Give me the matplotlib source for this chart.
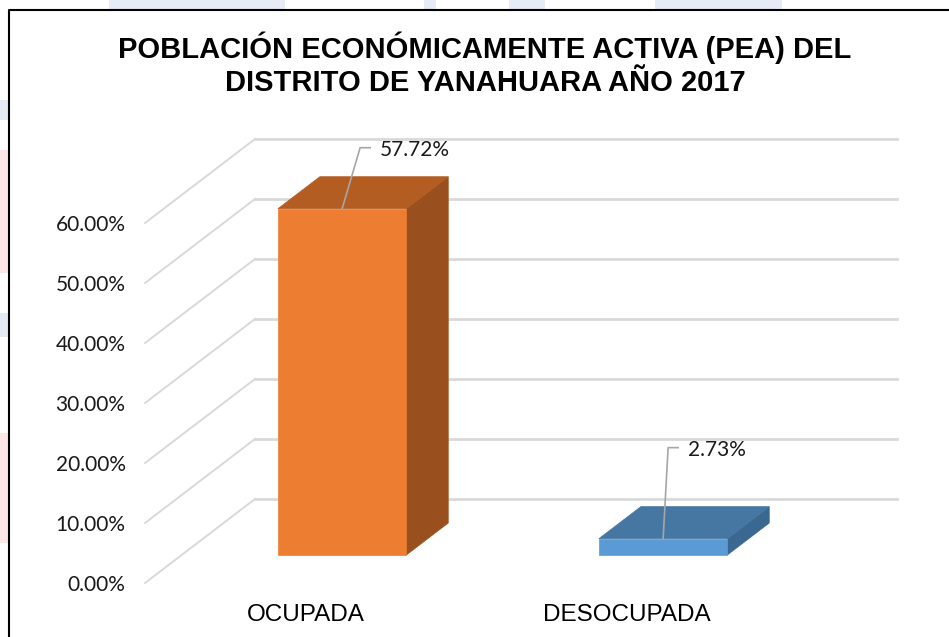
#!/usr/bin/env python3
"""PEA del distrito de Yanahuara 2017 -- Excel-style 3D column chart."""
import matplotlib
matplotlib.use("Agg")
import matplotlib.pyplot as plt
from matplotlib.patches import Polygon, Rectangle
from matplotlib.lines import Line2D
from matplotlib.transforms import IdentityTransform

CATEGORIES = ["OCUPADA", "DESOCUPADA"]
VALUES = [57.72, 2.73]                        # percent
Y_TICKS = [0, 10, 20, 30, 40, 50, 60]
TITLE = ["POBLACIÓN ECONÓMICAMENTE ACTIVA (PEA) DEL",
         "DISTRITO DE YANAHUARA AÑO 2017"]

FRONT = ["#ED7D31", "#5B9BD5"]
TOP = ["#B45D22", "#4677A3"]
SIDE = ["#994F1E", "#3B6890"]
GRID = "#d9d9d9"

W, H = 949, 637
DEPTH_X, DEPTH_Y = 110 / 321.0, 14.0          # floor depth in data units (cat, %)
D0, D1 = 0.333, 0.714                          # bar front/back as fraction of depth
BAR_W = 0.40
LEADERS = [(18, 61), (5, 91)]                  # label bend offsets (px)

# faint watermark showing around the frame: (x, y_top, w, h, colour) in px
WATERMARK = [(0, 100, 8, 20, "#e4e9f4"), (0, 150, 8, 123, "#fce6e7"),
             (0, 313, 8, 24, "#e4e9f4"), (0, 433, 8, 110, "#fce6e7"),
             (109, 0, 176, 9, "#e6ebf6"), (424, 0, 12, 9, "#e6ebf6"),
             (509, 0, 36, 9, "#e6ebf6"), (655, 0, 127, 9, "#e6ebf6")]


def main():
    fig = plt.figure(figsize=(W / 100, H / 100), dpi=100)
    ax = fig.add_axes([145 / W, 1 - 583 / H, 642 / W, 360 / H])
    ax.set_xlim(-0.5, 1.5); ax.set_ylim(0, 60)
    for s in ax.spines.values():
        s.set_visible(False)

    # side wall diagonals + back wall gridlines
    for v in Y_TICKS:
        ax.plot([-0.5, -0.5 + DEPTH_X], [v, v + DEPTH_Y], color=GRID, lw=1.4,
                clip_on=False, zorder=1)
        ax.plot([-0.5 + DEPTH_X, 1.5 + DEPTH_X], [v + DEPTH_Y, v + DEPTH_Y],
                color=GRID, lw=2.0, clip_on=False, zorder=1)

    idt = IdentityTransform()
    for i, v in enumerate(VALUES):
        x0, x1 = i - BAR_W / 2, i + BAR_W / 2
        fx, fy = D0 * DEPTH_X, D0 * DEPTH_Y
        bx, by = D1 * DEPTH_X, D1 * DEPTH_Y
        front = [(x0 + fx, fy), (x1 + fx, fy), (x1 + fx, fy + v), (x0 + fx, fy + v)]
        top = [(x0 + fx, fy + v), (x1 + fx, fy + v), (x1 + bx, by + v), (x0 + bx, by + v)]
        side = [(x1 + fx, fy), (x1 + bx, by), (x1 + bx, by + v), (x1 + fx, fy + v)]
        for pts, col in ((side, SIDE[i]), (top, TOP[i]), (front, FRONT[i])):
            ax.add_patch(Polygon(pts, closed=True, fc=col, ec=col, lw=0.5,
                                 clip_on=False, zorder=3))

        # leader line + data label
        sx, sy = ax.transData.transform((i + fx, fy + v))
        ox, oy = LEADERS[i]
        fig.add_artist(Line2D([sx, sx + ox, sx + ox + 10], [sy, sy + oy, sy + oy],
                              color="#a6a6a6", lw=1.2, transform=idt, zorder=4))
        fig.text(sx + ox + 20, sy + oy - 2, f"{v:.2f}%", transform=idt, ha="left",
                 va="center", fontsize=15, family="Lato", color="#1a1a1a")

    ax.set_yticks(Y_TICKS, [f"{t:.2f}%" for t in Y_TICKS])
    ax.set_xticks(range(len(CATEGORIES)), CATEGORIES)
    ax.tick_params(axis="y", length=0, pad=14, labelsize=15, labelcolor="#1a1a1a")
    ax.tick_params(axis="x", length=0, pad=15, labelsize=17.5)
    for lab in ax.get_yticklabels():
        lab.set_family("Lato")
    for lab in ax.get_xticklabels():
        lab.set_family("Liberation Sans")

    for (x, y, w, h, c) in WATERMARK:
        fig.patches.append(Rectangle((x / W, 1 - (y + h) / H), w / W, h / H, fc=c,
                                     ec="none", transform=fig.transFigure))

    # frame
    fig.add_artist(Line2D([9 / W, 9 / W, 1], [0, 1 - 10 / H, 1 - 10 / H],
                          color="black", lw=1.5, transform=fig.transFigure))

    fig.text(485 / W, 1 - 58 / H, TITLE[0], ha="center", va="baseline", fontsize=21,
             fontweight="bold", family="Liberation Sans")
    fig.text(485 / W, 1 - 91 / H, TITLE[1], ha="center", va="baseline", fontsize=21,
             fontweight="bold", family="Liberation Sans")

    fig.savefig("out.png", dpi=100)
    plt.close(fig)


if __name__ == "__main__":
    main()
